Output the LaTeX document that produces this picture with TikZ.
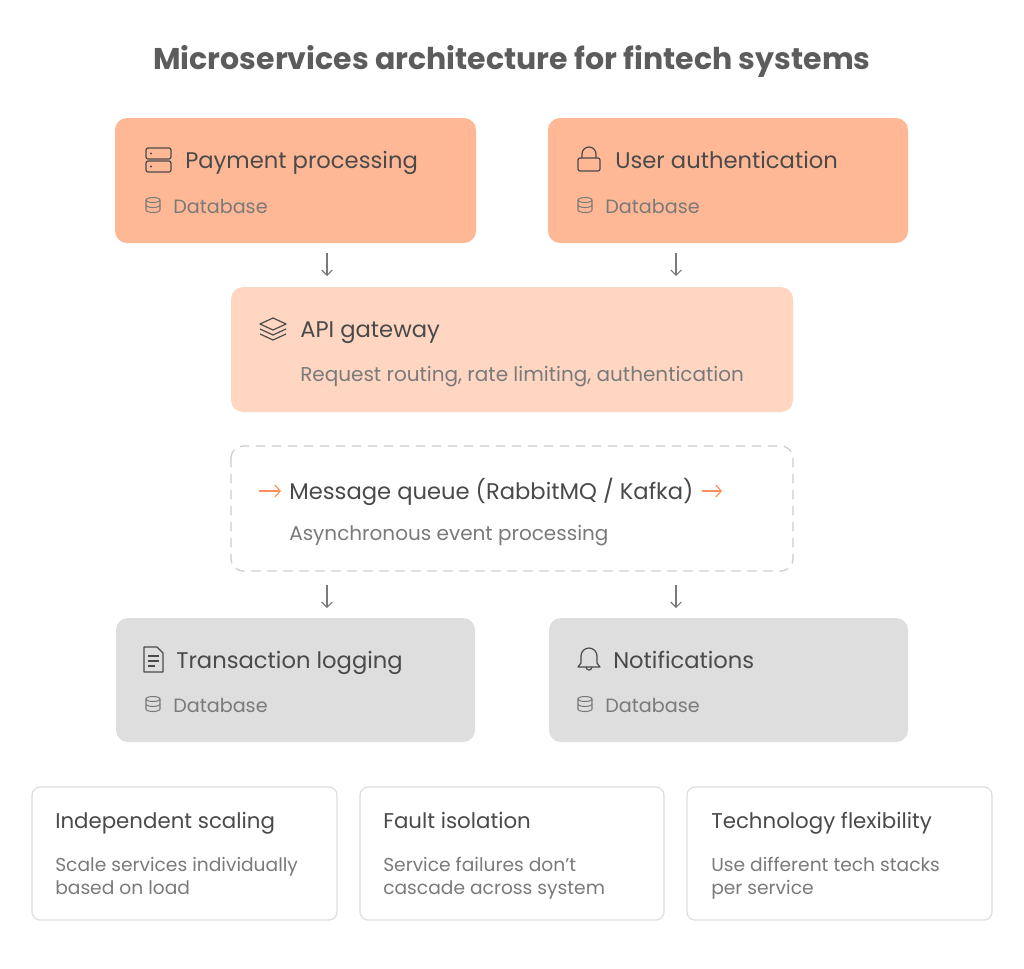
\documentclass[tikz,border=0pt]{standalone}
\usepackage{fontspec}
\setmainfont{Poppins}
\usetikzlibrary{arrows.meta}
\definecolor{orA}{HTML}{FFB895}
\definecolor{orB}{HTML}{FFD6C1}
\definecolor{gr}{HTML}{DEDEDE}
\definecolor{tx}{HTML}{4A4A4A}
\definecolor{sub}{HTML}{7A7A7A}
\definecolor{acc}{HTML}{FF8F5E}
\begin{document}
\begin{tikzpicture}[x=0.75pt,y=-0.75pt,
  box/.style={rounded corners=9pt,draw=none},
  ttl/.style={anchor=base west,text=tx,font=\fontsize{17}{20}\selectfont,inner sep=0},
  sb/.style={anchor=base west,text=sub,font=\fontsize{14.4}{17}\selectfont,inner sep=0},
  sbl/.style={anchor=base west,text=sub,font=\fontsize{15}{18}\selectfont,inner sep=0},
  ic/.style={draw=tx,line width=0.9pt},
  dbic/.style={draw=sub,line width=0.8pt},
  arr/.style={draw=sub,line width=0.8pt,-{Straight Barb[length=4pt,width=8pt]}},
  card/.style={draw=gr,line width=0.9pt,rounded corners=6pt,fill=white},
  ctl/.style={anchor=base west,text=tx,font=\fontsize{16}{19}\selectfont,inner sep=0},
  cb/.style={anchor=base west,text=sub,font=\fontsize{14}{17.2}\selectfont,inner sep=0}]
\useasboundingbox[fill=white] (0,0) rectangle (1024,968);
\node[text=tx!90!white,font=\fontsize{22.5}{26}\selectfont\bfseries] (title) at (512,61) {Microservices architecture for fintech systems};
% boxes
\fill[orA,box] (115,118) rectangle (476,243);
\fill[orA,box] (548,118) rectangle (908,243);
\fill[orB,box] (231,287) rectangle (793,412);
\draw[gr!80!gray,line width=0.9pt,dash pattern=on 7pt off 5pt,rounded corners=9pt] (231,446) rectangle (793,571);
\fill[gr,box] (116,618) rectangle (475,742);
\fill[gr,box] (549,618) rectangle (908,742);
\newcommand\dbicon[2]{%
 \draw[dbic] (#1-7,#2-5) -- (#1-7,#2+5) arc[start angle=180,end angle=0,x radius=7,y radius=2.5] -- (#1+7,#2-5);
 \draw[dbic] (#1,#2-5) ellipse[x radius=7,y radius=2.5];
 \draw[dbic] (#1-7,#2) arc[start angle=180,end angle=0,x radius=7,y radius=2.5];}
% payment
\draw[ic,rounded corners=1.5pt] (146,148) rectangle (171,159) (146,161) rectangle (171,172);
\fill[tx] (151,153.5) circle (1.2) (151,166.5) circle (1.2);
\node[ttl] (payT) at (185,168) {Payment processing};
\dbicon{153}{205}
\node[sb] (payD) at (173,213) {Database};
% user auth
\draw[ic,rounded corners=1.5pt] (578,158) rectangle (600,171);
\draw[ic] (582,158) -- (582,154) arc[start angle=180,end angle=360,radius=7] -- (596,158);
\node[ttl] (usrT) at (615,168) {User authentication};
\dbicon{585}{205}
\node[sb] (usrD) at (605,213) {Database};
% api
\draw[ic,line join=round] (273,318) -- (286,324) -- (273,330) -- (260,324) -- cycle;
\draw[ic,line join=round] (260,329) -- (273,335) -- (286,329);
\draw[ic,line join=round] (260,334) -- (273,340) -- (286,334);
\node[ttl] (apiT) at (300,337) {API gateway};
\node[sbl] (apiS) at (300,381) {Request routing, rate limiting, authentication};
% mq
\node[ttl] (mqT) at (289,499) {Message queue (RabbitMQ / Kafka)};
\draw[draw=acc,line width=0.9pt,-{Straight Barb[length=4pt,width=9pt]}] (259,491) -- (281,491);
\draw[draw=acc,line width=0.9pt,-{Straight Barb[length=4pt,width=9pt]}] (702,491) -- (722,491);
\node[sbl] (mqS) at (289,540) {Asynchronous event processing};
% transaction
\draw[ic,line join=round] (144,647) -- (157,647) -- (163,653) -- (163,672) -- (144,672) -- cycle;
\draw[ic] (148,656) -- (159,656) (148,661) -- (159,661) (148,666) -- (155,666);
\node[ttl] (trT) at (176,668) {Transaction logging};
\dbicon{153}{704}
\node[sb] (trD) at (173,712) {Database};
% notifications
\draw[ic,line join=round] (578,667) -- (581,663) -- (581,656) arc[start angle=180,end angle=360,radius=8] -- (597,663) -- (600,667) -- cycle;
\draw[ic] (586,667) arc[start angle=180,end angle=0,radius=3];
\node[ttl] (noT) at (613,668) {Notifications};
\dbicon{585}{704}
\node[sb] (noD) at (605,712) {Database};
% arrows
\coordinate (a1s) at (327,253); \coordinate (a1e) at (327,276);
\coordinate (a2s) at (676,253); \coordinate (a2e) at (676,276);
\coordinate (a3s) at (327,585); \coordinate (a3e) at (327,608);
\coordinate (a4s) at (676,585); \coordinate (a4e) at (676,608);
\draw[arr] (a1s) -- (a1e); \draw[arr] (a2s) -- (a2e);
\draw[arr] (a3s) -- (a3e); \draw[arr] (a4s) -- (a4e);
% cards
\draw[card] (32,787) rectangle (337,920);
\draw[card] (360,787) rectangle (664,920);
\draw[card] (687,787) rectangle (992,920);
\node[ctl] (c1) at (55,828) {Independent scaling};
\node[cb] (c1b) at (55,871) {Scale services individually};
\node[cb] (c1c) at (55,894) {based on load};
\node[ctl] (c2) at (383,828) {Fault isolation};
\node[cb] (c2b) at (383,871) {Service failures don\symbol{39}t};
\node[cb] (c2c) at (383,894) {cascade across system};
\node[ctl] (c3) at (711,828) {Technology flexibility};
\node[cb] (c3b) at (711,871) {Use different tech stacks};
\node[cb] (c3c) at (711,894) {per service};
\end{tikzpicture}
\end{document}
